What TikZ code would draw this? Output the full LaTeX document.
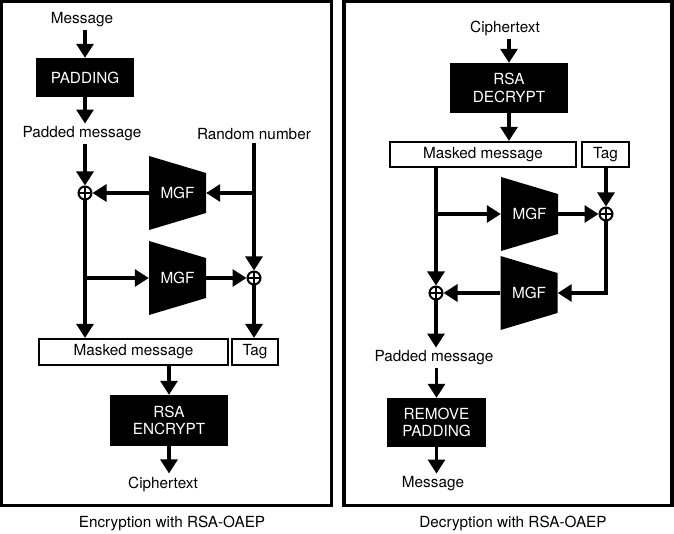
\documentclass[tikz,border=0pt]{standalone}
\usepackage{fontspec}
\setmainfont{TeX Gyre Heros}
\usetikzlibrary{arrows.meta,calc}
\begin{document}
\begin{tikzpicture}[x=1pt,y=-1pt,
  every node/.style={font=\fontsize{15.3}{17.7}\selectfont},
  lbl/.style={inner sep=3pt},
  blk/.style={fill=black,text=white,align=center,inner sep=0pt},
  wbox/.style={draw,line width=2.2pt,inner sep=0pt},
  panel/.style={draw,line width=3.2pt},
  xor/.style={circle,draw,line width=2pt,minimum size=13pt,inner sep=0pt,
    path picture={\draw[line width=1.8pt] (path picture bounding box.north) -- (path picture bounding box.south)
      (path picture bounding box.east) -- (path picture bounding box.west);}},
  mgfn/.style={minimum width=57pt,minimum height=74pt,inner sep=0pt,text=white,
    path picture={\fill[black] (path picture bounding box.north west) -- ([yshift=-17pt]path picture bounding box.north east)
      -- ([yshift=17pt]path picture bounding box.south east) -- (path picture bounding box.south west) -- cycle;}},
  arr/.style={line width=3.1pt,-{Triangle[length=14pt,width=17pt]}}
]
\useasboundingbox (0,0) rectangle (674,534);
\fill[white] (0,0) rectangle (674,534);
% panels
\draw[panel] (1.6,1.6) rectangle (331.5,505.5);
\draw[panel] (344,1.6) rectangle (672,505.5);
\node[lbl] (cap1) at (172,523) {Encryption with RSA-OAEP};
\node[lbl] (cap2) at (513,523) {Decryption with RSA-OAEP};

% ---------- Encryption ----------
\node[lbl] (msg1) at (82,20) {Message};
\node[blk,minimum width=98pt,minimum height=39pt] (pad) at (85,77.5) {PADDING};
\node[lbl] (pm1) at (82,134) {Padded message};
\node[lbl] (rn) at (254,134) {Random number};
\node[xor] (x1) at (85,193) {};
\node[xor] (x2) at (254,278) {};
\node[mgfn] (mgf1) at (177.5,193) {MGF};
\node[mgfn] (mgf2) at (177.5,278) {MGF};
\node[wbox,minimum width=189pt,minimum height=26pt] (mm1) at (133.5,352) {Masked message};
\node[wbox,minimum width=46pt,minimum height=26pt] (tag1) at (255,352) {Tag};
\node[blk,minimum width=118pt,minimum height=51pt] (enc) at (169,420.5) {RSA\\ENCRYPT};
\node[lbl] (ct1) at (163,484) {Ciphertext};

\draw[arr] (pad.north |- msg1.south) -- (pad.north);
\draw[arr] (pad.south) -- (pad.south |- pm1.north);
\draw[arr] (x1.north |- pm1.south) -- (x1.north);
\draw[arr] (x2.north |- rn.south) -- (x2.north);
\draw[arr] (x2.north |- mgf1.east) -- (mgf1.east);
\draw[arr] (mgf1.west) -- (x1.east);
\draw[arr] (x1.south) -- (x1.south |- mm1.north);
\draw[arr] (x1 |- mgf2.west) -- (mgf2.west);
\draw[arr] (mgf2.east) -- (x2.west);
\draw[arr] (x2.south) -- (x2.south |- tag1.north);
\draw[arr] (enc.north |- mm1.south) -- (enc.north);
\draw[arr] (enc.south) -- (enc.south |- ct1.north);

% ---------- Decryption ----------
\node[lbl] (ct2) at (505,28) {Ciphertext};
\node[blk,minimum width=118pt,minimum height=50pt] (dec) at (509,88) {RSA\\DECRYPT};
\node[wbox,minimum width=186pt,minimum height=25pt] (mm2) at (483,154.5) {Masked message};
\node[wbox,minimum width=47pt,minimum height=25pt] (tag2) at (605.5,154.5) {Tag};
\node[mgfn] (mgf3) at (529.5,214) {MGF};
\node[xor] (x3) at (606,214) {};
\node[mgfn] (mgf4) at (529,293) {MGF};
\node[xor] (x4) at (436,293) {};
\node[lbl] (pm2) at (434,358) {Padded message};
\node[blk,minimum width=99pt,minimum height=49pt] (rem) at (436.5,422.5) {REMOVE\\PADDING};
\node[lbl] (msg2) at (433,484) {Message};

\draw[arr] (dec.north |- ct2.south) -- (dec.north);
\draw[arr] (dec.south) -- (dec.south |- mm2.north);
\draw[arr] (x4.north |- mm2.south) -- (x4.north);
\draw[arr] (x4.north |- mgf3.west) -- (mgf3.west);
\draw[arr] (mgf3.east) -- (x3.west);
\draw[arr] (x3.north |- tag2.south) -- (x3.north);
\draw[arr] (x3.south) |- (mgf4.east);
\draw[arr] (mgf4.west) -- (x4.east);
\draw[arr] (x4.south) -- (x4.south |- pm2.north);
\draw[arr] (rem.north |- pm2.south) -- (rem.north);
\draw[arr] (rem.south) -- (rem.south |- msg2.north);
\end{tikzpicture}
\end{document}
